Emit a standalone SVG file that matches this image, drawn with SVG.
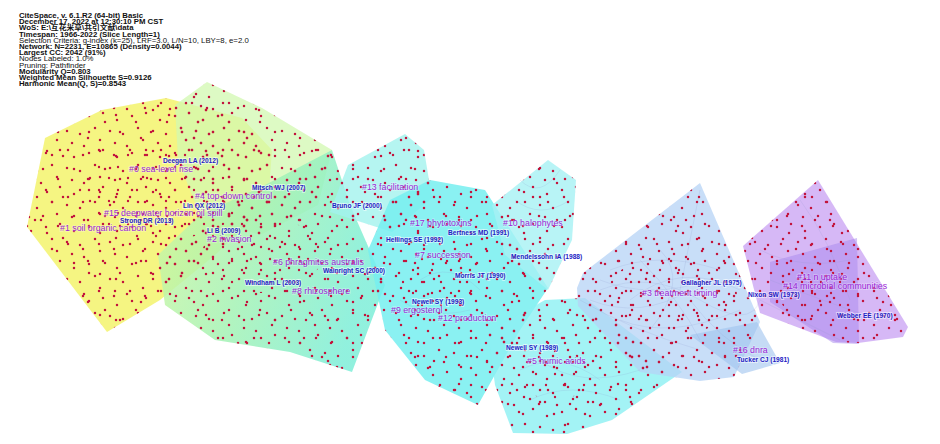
<svg xmlns="http://www.w3.org/2000/svg" width="940" height="444" viewBox="0 0 940 444">
<defs>
<style>
.hdr{font-family:"Liberation Sans",Arial,"Noto Sans CJK SC",sans-serif;font-size:7.8px;fill:#111}
.b{font-weight:bold}
.cl{font-family:"Liberation Sans",Arial,sans-serif;font-size:8.8px;fill:#9a26d6;paint-order:stroke;stroke:#ffffff;stroke-opacity:.3;stroke-width:1.5}
.au{font-family:"Liberation Sans",Arial,sans-serif;font-size:6.6px;font-weight:bold;fill:#1d22c4;paint-order:stroke;stroke:#ffffff;stroke-opacity:.5;stroke-width:1.8}
.lk{fill:none;stroke:#8a94c8;stroke-width:.5;stroke-opacity:.35}
.dA{fill:url(#dotA)}
.dB{fill:url(#dotB)}
.dC{fill:url(#dotC)}
.dD{fill:url(#dotD)}
</style>
<pattern id="dotA" patternUnits="userSpaceOnUse" width="43" height="37">
<g fill="#c2143c"><circle cx="3" cy="5" r="1.25"/><circle cx="17" cy="2" r="1.25"/><circle cx="31" cy="9" r="1.25"/><circle cx="9" cy="17" r="1.25"/><circle cx="24" cy="20" r="1.25"/><circle cx="37" cy="23" r="1.25"/><circle cx="14" cy="29" r="1.25"/><circle cx="29" cy="32" r="1.25"/><circle cx="41" cy="35" r="1.25"/></g>
</pattern>
<pattern id="dotB" patternUnits="userSpaceOnUse" width="31" height="47">
<g fill="#c2143c"><circle cx="6" cy="9" r="1.25"/><circle cx="21" cy="14" r="1.25"/><circle cx="12" cy="28" r="1.25"/><circle cx="27" cy="38" r="1.25"/></g>
</pattern>
<pattern id="dotD" patternUnits="userSpaceOnUse" width="53" height="41">
<g fill="#c2143c"><circle cx="10" cy="33" r="1.25"/><circle cx="35" cy="15" r="1.25"/><circle cx="47" cy="28" r="1.25"/></g>
</pattern>
<pattern id="dotC" patternUnits="userSpaceOnUse" width="19" height="23">
<g fill="#c2143c"><circle cx="4" cy="6" r="1.2"/><circle cx="14" cy="17" r="1.2"/></g>
</pattern>
<linearGradient id="gGreen" x1="0" y1="0" x2="1" y2="0.3">
<stop offset="0" stop-color="#d2f7a0"/>
<stop offset="0.5" stop-color="#a4f2b4"/>
<stop offset="1" stop-color="#7eeed8"/>
</linearGradient>
<polygon id="p0" points="27,227 45,138 102,110 166,98 242,118 272,150 268,205 215,255 160,300 107,332"/>
<polygon id="p4" points="175,105 207,82 262,108 332,150 318,205 260,235 200,215 178,160"/>
<polygon id="p2" points="158,255 200,215 265,185 332,150 350,205 385,285 352,372 290,352 215,340 165,305"/>
<polygon id="p13" points="330,212 348,165 405,134 424,150 432,198 392,232"/>
<polygon id="p7" points="368,250 390,200 430,180 485,190 548,288 520,330 478,405 425,380 385,330"/>
<polygon id="p10" points="492,205 548,160 576,180 572,240 548,290 505,255"/>
<polygon id="p5" points="488,332 545,300 585,298 682,372 612,420 567,434 513,433 495,385"/>
<polygon id="p3" points="577,288 583,273 700,183 760,322 734,377 700,381 640,372 578,306"/>
<polygon id="p16" points="690,335 757,322 780,363 742,374"/>
<polygon id="p11" points="743,246 818,180 908,327 903,337 858,343 836,342 760,313"/>
<polygon id="p14" points="770,262 857,238 859,344 833,343 770,302"/>
</defs>
<rect width="940" height="444" fill="#ffffff"/>

<g id="header" transform="scale(1,0.82)">
<text class="hdr b" x="19" y="21.9">CiteSpace, v. 6.1.R2 (64-bit) Basic</text>
<text class="hdr b" x="19" y="29.5">December 17, 2022 at 12:30:10 PM CST</text>
<text class="hdr b" x="19" y="37.1">WoS: E:\互花米草\共引文献\data</text>
<text class="hdr b" x="19" y="44.6">Timespan: 1966-2022 (Slice Length=1)</text>
<text class="hdr" x="19" y="52.2">Selection Criteria: g-index (k=25), LRF=3.0, L/N=10, LBY=8, e=2.0</text>
<text class="hdr b" x="19" y="59.8">Network: N=2231, E=10865 (Density=0.0044)</text>
<text class="hdr b" x="19" y="67.3">Largest CC: 2042 (91%)</text>
<text class="hdr" x="19" y="74.9">Nodes Labeled: 1.0%</text>
<text class="hdr" x="19" y="82.4">Pruning: Pathfinder</text>
<text class="hdr b" x="19" y="90">Modularity Q=0.803</text>
<text class="hdr b" x="19" y="97.6">Weighted Mean Silhouette S=0.9126</text>
<text class="hdr b" x="19" y="105.1">Harmonic Mean(Q, S)=0.8543</text>
</g>

<g id="hulls">
<use href="#p0" fill="#f3f36c" fill-opacity="0.85"/>
<use href="#p4" fill="#d2f8b0" fill-opacity="0.75"/>
<use href="#p2" fill="url(#gGreen)" fill-opacity="0.85"/>
<use href="#p13" fill="#a2f2ee" fill-opacity="0.8"/>
<use href="#p7" fill="#76eef0" fill-opacity="0.85"/>
<use href="#p10" fill="#a6f1f4" fill-opacity="0.8"/>
<use href="#p5" fill="#8cf0f2" fill-opacity="0.8"/>
<use href="#p3" fill="#b6d3f6" fill-opacity="0.75"/>
<use href="#p16" fill="#9fc3ee" fill-opacity="0.6"/>
<use href="#p11" fill="#cba4f3" fill-opacity="0.78"/>
<use href="#p14" fill="#a888ee" fill-opacity="0.5"/>
</g>

<g id="connectors">
<path class="lk" d="M600 290 Q650 270 700 300 T760 300"/>
<path class="lk" d="M590 300 Q640 320 690 290"/>
<path class="lk" d="M610 270 Q660 250 720 270"/>
<path class="lk" d="M620 320 Q670 340 740 310"/>
<path class="lk" d="M640 260 Q680 300 700 340"/>
<path class="lk" d="M660 250 Q690 280 650 330"/>
<path class="lk" d="M600 280 Q650 300 710 280"/>
<path class="lk" d="M630 300 Q680 260 740 290"/>
<path class="lk" d="M700 190 Q690 240 680 290"/>
<path class="lk" d="M580 300 Q630 330 700 350"/>
<path class="lk" d="M690 300 Q720 340 760 360"/>
<path class="lk" d="M760 250 Q800 270 850 260"/>
<path class="lk" d="M770 280 Q820 300 880 320"/>
<path class="lk" d="M800 200 Q830 240 850 300"/>
<path class="lk" d="M760 300 Q800 320 840 340"/>
<path class="lk" d="M520 180 Q540 200 560 170"/>
<path class="lk" d="M515 200 Q540 220 570 200"/>
<path class="lk" d="M420 280 Q450 260 480 290"/>
<path class="lk" d="M400 300 Q430 320 470 310"/>
<path class="lk" d="M520 370 Q560 350 600 380"/>
<path class="lk" d="M530 400 Q570 380 620 400"/>
<path class="lk" d="M540 360 Q580 390 640 370"/>
</g>

<g id="nodes">
<g id="cluster-0"><use href="#p0" class="dA"/><use href="#p0" class="dB"/><use href="#p0" class="dD"/><ellipse cx="160" cy="195" rx="85" ry="45" class="dC"/></g>
<g id="cluster-4"><use href="#p4" class="dA"/><use href="#p4" class="dB"/><use href="#p4" class="dD"/></g>
<g id="cluster-2"><use href="#p2" class="dA"/><use href="#p2" class="dB"/><use href="#p2" class="dD"/><ellipse cx="262" cy="255" rx="60" ry="38" class="dC"/></g>
<g id="cluster-13"><use href="#p13" class="dA"/><use href="#p13" class="dB"/><use href="#p13" class="dD"/></g>
<g id="cluster-7"><use href="#p7" class="dA"/><use href="#p7" class="dB"/><use href="#p7" class="dD"/><ellipse cx="440" cy="280" rx="40" ry="30" class="dC"/></g>
<g id="cluster-10"><use href="#p10" class="dA"/><use href="#p10" class="dB"/><use href="#p10" class="dD"/></g>
<g id="cluster-5"><use href="#p5" class="dA"/><use href="#p5" class="dB"/><use href="#p5" class="dD"/><ellipse cx="555" cy="375" rx="35" ry="25" class="dC"/></g>
<g id="cluster-3"><use href="#p3" class="dA"/><use href="#p3" class="dB"/><use href="#p3" class="dD"/><ellipse cx="672" cy="295" rx="65" ry="40" class="dC"/></g>
<g id="cluster-11"><use href="#p11" class="dA"/><use href="#p11" class="dB"/><use href="#p11" class="dD"/><ellipse cx="812" cy="290" rx="35" ry="28" class="dC"/></g>
</g>

<g id="labels">
<text class="au" x="163" y="163">Deegan LA (2012)</text>
<text class="cl" x="129" y="172">#0 sea-level rise</text>
<text class="au" x="252" y="190">Mitsch WJ (2007)</text>
<text class="cl" x="195" y="199">#4 top-down control</text>
<text class="au" x="183" y="207.5">Lin QX (2012)</text>
<text class="cl" x="104" y="215.5">#15 deepwater horizon oil spill</text>
<text class="au" x="120" y="223">Strong DR (2013)</text>
<text class="cl" x="60" y="231">#1 soil organic carbon</text>
<text class="au" x="207" y="233">Li B (2009)</text>
<text class="cl" x="207" y="241.5">#2 invasion</text>
<text class="cl" x="273" y="265">#6 phragmites australis</text>
<text class="au" x="323" y="273">Wainright SC (2000)</text>
<text class="au" x="245" y="285">Windham L (2003)</text>
<text class="cl" x="292" y="294">#8 rhizosphere</text>
<text class="cl" x="362" y="190">#13 facilitation</text>
<text class="au" x="332" y="208">Bruno JF (2000)</text>
<text class="cl" x="410" y="226">#17 phytotoxins</text>
<text class="cl" x="503" y="226">#10 halophytes</text>
<text class="au" x="448" y="235">Bertness MD (1991)</text>
<text class="au" x="386" y="242">Hellings SE (1992)</text>
<text class="cl" x="415" y="258">#7 succession</text>
<text class="au" x="511" y="259">Mendelssohn IA (1988)</text>
<text class="au" x="455" y="278">Morris JT (1990)</text>
<text class="au" x="412" y="303.5">Newell SY (1993)</text>
<text class="cl" x="391" y="313">#9 ergosterol</text>
<text class="cl" x="438" y="320.5">#12 production</text>
<text class="au" x="506" y="350">Newell SY (1989)</text>
<text class="cl" x="527" y="364">#5 humic acids</text>
<text class="au" x="681" y="285">Gallagher JL (1975)</text>
<text class="cl" x="642" y="296">#3 treatment timing</text>
<text class="cl" x="797" y="280">#11 n uptake</text>
<text class="cl" x="783" y="289">#14 microbial communities</text>
<text class="au" x="748" y="297">Nixon SW (1973)</text>
<text class="au" x="837" y="318">Webber EE (1970)</text>
<text class="cl" x="733" y="352.5">#16 dnra</text>
<text class="au" x="737" y="361.5">Tucker CJ (1981)</text>
</g>
</svg>
